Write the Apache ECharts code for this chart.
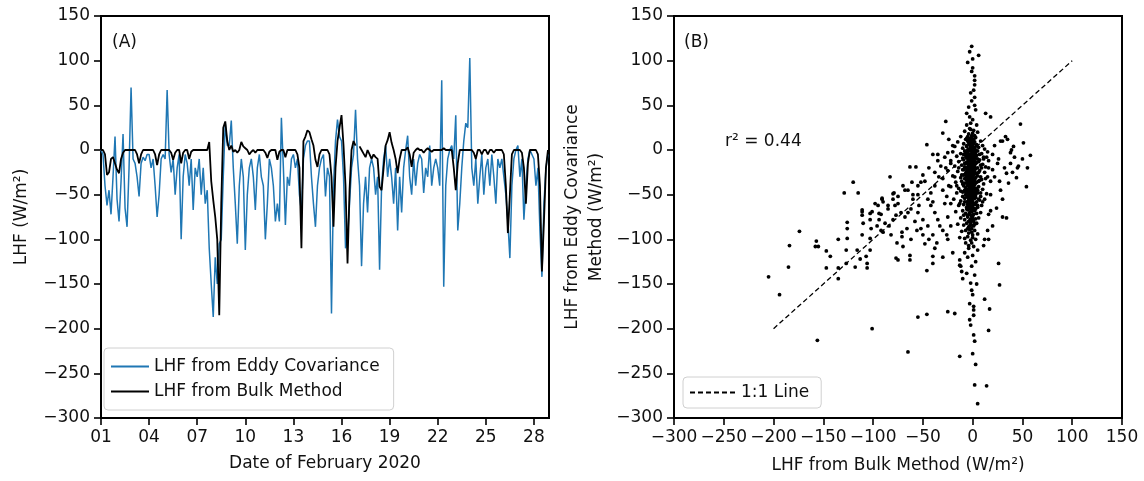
<!DOCTYPE html>
<html><head><meta charset="utf-8">
<script src="https://cdn.jsdelivr.net/npm/echarts@6/dist/echarts.min.js"></script>
<style>html,body{margin:0;padding:0;background:#fff}#c{width:1144px;height:481px}</style>
</head><body><div id="c"></div>
<script>
// ---- Panel A: time series (8 samples per day, starting Feb 1 00:00) ----
const dayTicks = [1,4,7,10,13,16,19,22,25,28];
const eddyLHF = [
  0,-5,-40,-62,-45,-72,-30,15,
  -55,-80,-35,18,-65,-86,-20,70,
  -10,-15,-30,-52,-15,-8,-12,-5,
  -5,-20,-10,-40,-75,-50,-10,-5,
  -10,67,-5,-25,-10,-50,-20,-5,
  -100,-30,-5,-15,-40,-10,-67,-20,
  -30,-10,-50,-20,-60,-45,-110,-150,
  -187,-120,-150,-105,-100,-30,30,5,
  5,33,-20,-60,-105,-40,-10,-30,
  -112,-50,-20,-10,-30,-67,-20,-5,
  -30,-40,-100,-60,-10,-20,-40,-80,
  -60,-80,36,-20,-84,-30,-40,-10,
  -5,-20,-10,-50,-70,-10,5,10,
  10,-30,-60,-86,-40,-20,-10,-5,
  -52,-20,-30,-183,-40,10,34,15,
  10,-30,-110,-100,-60,-20,-5,45,
  -10,-40,-130,-60,-30,-70,-20,-10,
  -20,-50,-30,-134,-40,-10,5,-30,
  -10,-30,-60,-20,-90,-30,-70,-20,
  0,16,-30,-50,-10,-40,-15,-5,
  -10,-48,-20,-30,5,-40,-20,-10,
  -20,-40,78,-153,-40,-10,0,5,
  -10,39,-90,-60,-20,10,30,25,
  103,-20,-40,-10,-60,-30,-5,-50,
  -20,-10,-40,-5,-30,-60,-10,-20,
  -10,-30,-50,-80,-121,-40,-10,0,
  5,-30,-10,-78,-40,-10,0,-5,
  -10,-40,-20,-90,-142,-60,-20,-5
];
const bulkLHF = [
  0,0,-5,-28,-25,-10,-8,-15,
  -22,-26,-10,-3,0,0,0,0,
  0,0,-5,-15,-5,0,0,0,
  0,0,0,-5,-17,-5,0,0,
  0,0,0,-3,-11,-3,0,0,
  -15,-3,0,0,-10,-2,0,0,
  0,0,0,0,0,0,9,-35,
  -56,-75,-100,-185,-60,25,32,10,
  0,5,-2,0,-3,0,9,4,
  2,0,-5,-2,0,-3,0,0,
  0,0,-3,-9,-2,0,0,0,
  -11,-2,0,0,-8,0,0,0,
  0,0,-5,-20,-110,10,15,22,
  20,12,5,-11,-19,-5,0,0,
  0,0,-5,-30,-86,-20,10,25,
  39,5,-40,-127,-45,0,10,5,
  null,4,0,-4,-8,0,-5,-10,
  -5,-8,-10,-41,-45,-20,5,11,
  20,8,0,-10,-26,-10,0,0,
  0,3,-5,-19,-3,0,2,0,
  0,-3,0,2,0,-2,0,0,
  0,0,0,2,0,0,0,0,
  -20,-45,-15,0,0,0,0,0,
  0,0,-3,-10,0,0,-5,0,
  0,-5,0,0,-3,0,0,0,
  0,-5,-40,-93,-50,-5,0,0,
  0,0,-3,-20,-60,-15,0,0,
  0,0,-5,-40,-136,-80,-20,0
];
const samplesPerDay = 8;

// ---- Panel B: scatter (x = bulk, y = eddy covariance) ----
const spikeUp = [[-1,116],[-3,110],[6,106],[-5,98],[0,102],[-1,88],[0,92],[2,83],[2,78],[2,73],[1,67],[-2,64],[2,59],[-1,55],[2,50],[-4,48],[3,45],[-6,41],[-3,37],[0,34],[-2,30],[4,28],[-6,28],[-3,24],[1,22],[13,41],[18,37],[-27,32],[-30,19]];
const core = [
 [-8,21],[-4,18],[-2,23],[0,19],[2,16],[5,20],[-1,14],
 [-12,15],[-6,13],[-3,11],[-1,16],[1,12],[3,14],[8,10],
 [-15,9],[-9,7],[-5,10],[-3,6],[-1,8],[0,4],[2,9],[4,6],[10,5],
 [-18,4],[-10,2],[-6,5],[-4,1],[-2,3],[-1,-1],[1,2],[3,0],[6,3],[12,1],
 [-20,-2],[-12,-4],[-8,-1],[-5,-3],[-3,-6],[-2,0],[0,-2],[1,-5],[3,-3],[5,-1],[9,-4],[15,-2],
 [-16,-7],[-10,-9],[-7,-6],[-5,-8],[-4,-11],[-2,-7],[-1,-10],[0,-8],[2,-9],[4,-6],[7,-11],[11,-8],
 [-22,-12],[-14,-13],[-9,-11],[-6,-14],[-4,-16],[-3,-12],[-2,-15],[-1,-13],[1,-12],[3,-15],[6,-13],[10,-16],[16,-12],
 [-18,-18],[-11,-17],[-8,-19],[-6,-21],[-4,-18],[-3,-22],[-2,-19],[0,-17],[1,-21],[2,-18],[5,-20],[8,-17],[13,-19],
 [-25,-23],[-15,-24],[-10,-22],[-7,-26],[-5,-24],[-4,-27],[-3,-25],[-1,-23],[0,-26],[2,-24],[4,-27],[7,-23],[12,-25],[20,-22],
 [-20,-29],[-12,-31],[-9,-28],[-6,-30],[-5,-33],[-3,-29],[-2,-32],[-1,-30],[1,-28],[3,-31],[5,-29],[9,-33],[15,-30],
 [-17,-36],[-11,-35],[-8,-37],[-6,-34],[-4,-38],[-3,-36],[-2,-34],[0,-37],[1,-35],[2,-39],[4,-36],[7,-34],[11,-38],[18,-35],
 [-22,-41],[-14,-43],[-9,-40],[-7,-42],[-5,-45],[-3,-41],[-2,-44],[-1,-42],[0,-40],[2,-43],[3,-46],[6,-41],[10,-44],
 [-16,-48],[-10,-47],[-7,-50],[-5,-48],[-4,-52],[-3,-49],[-1,-51],[0,-47],[1,-53],[3,-50],[5,-48],[8,-52],[14,-49],
 [-19,-55],[-12,-57],[-8,-54],[-6,-58],[-4,-56],[-2,-59],[-1,-55],[0,-57],[2,-54],[4,-58],[7,-56],[12,-55],
 [-14,-62],[-9,-61],[-6,-64],[-4,-60],[-3,-63],[-2,-66],[0,-62],[1,-65],[3,-61],[5,-64],[9,-62],
 [-17,-69],[-10,-68],[-7,-71],[-5,-67],[-3,-72],[-1,-69],[0,-73],[2,-68],[4,-71],[8,-70],
 [-12,-76],[-8,-78],[-5,-75],[-3,-79],[-2,-77],[0,-75],[1,-80],[3,-77],[6,-76],
 [-15,-83],[-9,-84],[-6,-82],[-4,-86],[-2,-83],[-1,-88],[1,-85],[4,-82],
 [-11,-91],[-7,-90],[-4,-93],[-3,-89],[-1,-92],[0,-95],[2,-90],[5,-94],
 [-13,-98],[-8,-99],[-5,-97],[-2,-101],[0,-98],[3,-100],
 [-7,-104],[-4,-107],[-1,-104],[1,-108]
];
const coreDense = [
 [-7,12],[-5,15],[-3,13],[-2,10],[0,11],[1,7],[-4,8],[-6,4],[-2,5],[0,1],[2,3],[-1,3],
 [-7,-3],[-5,0],[-3,-1],[-1,-4],[1,-1],[2,-6],[-4,-5],[-6,-9],[-3,-8],[0,-11],[2,-12],[-2,-12],
 [-7,-15],[-5,-13],[-3,-16],[-1,-17],[1,-15],[4,-14],[-5,-19],[-2,-21],[0,-20],[3,-21],[-6,-24],[-4,-22],
 [-2,-26],[1,-24],[-1,-27],[3,-26],[-7,-28],[-5,-29],[-3,-31],[0,-29],[2,-33],[-4,-33],[-1,-34],[1,-32],
 [-6,-37],[-4,-35],[-2,-37],[0,-35],[3,-37],[-5,-40],[-3,-43],[-1,-39],[1,-41],[4,-43],[-6,-44],[-2,-46],
 [0,-44],[2,-47],[-4,-47],[-7,-47],[-3,-51],[-1,-48],[1,-50],[-5,-53],[-2,-54],[0,-52],[3,-53],[-6,-51],
 [-4,-58],[-2,-57],[0,-59],[2,-60],[-5,-61],[-3,-60],[-1,-63],[1,-60],[-6,-66],[-4,-65],[-2,-69],[0,-67],
 [3,-66],[-3,-70],[-1,-74],[1,-72],[-5,-73],[-4,-80],[-2,-80],[0,-78],[2,-83],[-3,-85],[-1,-84],[-5,-88],
 [-8,-32],[-8,-45],[-8,-58],[-8,-15],[-9,-5],[-9,-22],[5,-10],[6,-25],[6,-35],[5,-45],[6,-55],[5,-62],
 [7,-5],[8,-30],[4,5],[3,-7],[-10,-38],[-10,-52],[-11,-28],[8,-48],[9,-20],[10,-58],[-12,-46],[-13,-60],
 [11,-10],[-14,-20],[13,-32],[-16,-40],[14,-8],[-9,-73]
];
const halo = [
 [-46,6],[-40,-5],[-35,-12],[-38,-25],[-32,-18],[-28,-8],[-25,-3],[-24,-40],[-30,-45],[-42,-48],[-48,-35],[-55,-50],
 [-44,-20],[-34,-30],[-57,-19],[-63,-19],[-61,-36],[-52,-36],[-80,-49],[-91,-55],[-83,-30],[-20,5],[-24,12],[-18,-30],
 [-30,-32],[-27,-20],[-22,-15],[-38,-40],[-50,-28],[-45,-55],[-65,-45],[-70,-40],[-75,-52],[-60,-55],[-54,-62],[-40,-58],
 [-98,-60],[-90,-58],[-85,-66],[-78,-62],[-72,-70],[-68,-75],[-62,-66],[-58,-80],[-55,-70],[-50,-78],[-45,-85],[-42,-62],
 [-38,-70],[-35,-78],[-30,-90],[-28,-60],[-25,-75],[-22,-85],[-50,-95],[-44,-100],[-36,-104],[-56,-90],[-66,-88],[-88,-82],
 [-96,-85],[-82,-95],[-62,-100],[-48,-105],[-38,-110],[-30,-120],[-20,-115],[-25,-100],[-35,-5],[-33,-85],[-26,-95],[-40,-95],[-52,-88],[-22,-60],[-26,-52]
];
const leftArm = [
 [-205,-142],[-194,-162],[-185,-131],[-184,-107],[-174,-91],[-157,-102],[-158,-108],[-155,-108],[-156,-213],[-147,-113],
 [-143,-119],[-147,-132],[-135,-100],[-135,-132],[-135,-144],[-126,-81],[-126,-88],[-126,-99],[-127,-112],[-127,-127],
 [-118,-131],[-116,-112],[-111,-67],[-111,-73],[-110,-82],[-111,-95],[-113,-122],[-107,-119],[-106,-127],[-106,-132],
 [-103,-71],[-103,-78],[-102,-88],[-103,-99],[-103,-112],[-101,-200],[-94,-71],[-94,-78],[-92,-90],[-90,-92],[-80,-78],
 [-77,-73],[-84,-85],[-76,-104],[-70,-108],[-77,-121],[-75,-123],[-71,-92],[-71,-97],[-65,-226],[-63,-118],[-63,-123],
 [-55,-187],[-46,-184],[-46,-135],[-40,-119],[-40,-127],[-129,-48],[-120,-36],[-115,-48],[-91,-54],[-79,-48],
 [-111,-69],[-101,-69],[-92,-72],[-80,-55],[-85,-62],[-95,-62],[-75,-60],[-68,-45],[-60,-50],[-55,-40],[-65,-70]
];
const lowerTail = [
 [-13,-231],[-25,-181],[-18,-183],[-13,-123],[-13,-129],[-12,-130],[-11,-136],[-10,-144],[-2,-149],[-1,-157],[0,-162],
 [-3,-172],[-2,-196],[1,-175],[1,-179],[1,-185],[1,-207],[2,-214],[2,-263],[5,-284],[14,-264],[12,-167],[16,-202],
 [17,-178],[16,-100],[26,-127],[27,-151],[-8,-115],[-5,-120],[-4,-110],[0,-118],[3,-125],[5,-112],[-6,-138],[2,-140],
 [-1,-130],[4,-150],[-3,-190],[0,-228],[3,-240],[11,-107],[12,-100]
];
const rightSpread = [
 [48,29],[51,8],[58,-6],[41,4],[39,0],[42,-8],[54,-41],[44,-31],[34,-26],[36,-37],[20,-5],[25,-15],[22,-30],[28,-45],
 [30,-55],[24,-65],[18,-50],[16,-72],[20,-85],[15,-90],[30,-75],[34,-76],[18,-68],[26,-10],[32,-20],[38,-15],[45,-20],
 [27,-35],[16,-20],[22,5],[28,10],[35,12],[30,10],[33,15],[38,-3],[46,-18],[50,-10],[40,-25],[55,-20]
];
const oneToOne = [[-200,-200],[100,100]];
const r2Text = 'r² = 0.44';

const FONT = 'DejaVu Sans';
const minus = v => String(v).replace('-', '\u2212');
const toSeries = arr => arr.map((v,i) => [1 + i / samplesPerDay, v]);

const axisCommon = {
  axisLine: {show: true, onZero: false, lineStyle: {color: '#000', width: 2}},
  axisTick: {show: true, inside: false, length: 7, lineStyle: {color: '#000', width: 1.6}},
  splitLine: {show: false},
  axisLabel: {color: '#111', fontFamily: FONT, fontSize: 17, margin: 11}
};
const legendCommon = {
  orient: 'vertical',
  borderColor: '#d0d0d0', borderWidth: 1, borderRadius: 4,
  textStyle: {fontFamily: FONT, fontSize: 17, color: '#111'},
  itemStyle: {opacity: 0},
  selectedMode: false
};

const chart = echarts.init(document.getElementById('c'), null, {renderer: 'canvas'});
chart.setOption({
  animation: false,
  backgroundColor: '#fff',
  grid: [
    {left: 101, top: 16, width: 448, height: 402, show: true, borderColor: '#000', borderWidth: 2},
    {left: 674, top: 16, width: 448, height: 402, show: true, borderColor: '#000', borderWidth: 2}
  ],
  xAxis: [
    Object.assign({}, axisCommon, {
      gridIndex: 0, type: 'value', min: 1, max: 28.94,
      axisTick: Object.assign({}, axisCommon.axisTick, {customValues: dayTicks}),
      axisLabel: Object.assign({}, axisCommon.axisLabel, {customValues: dayTicks, formatter: v => String(v).padStart(2, '0')})
    }),
    Object.assign({}, axisCommon, {
      gridIndex: 1, type: 'value', min: -300, max: 150, interval: 50,
      axisLabel: Object.assign({}, axisCommon.axisLabel, {formatter: minus})
    })
  ],
  yAxis: [
    Object.assign({}, axisCommon, {
      gridIndex: 0, type: 'value', min: -300, max: 150, interval: 50,
      axisLabel: Object.assign({}, axisCommon.axisLabel, {formatter: minus})
    }),
    Object.assign({}, axisCommon, {
      gridIndex: 1, type: 'value', min: -300, max: 150, interval: 50,
      axisLabel: Object.assign({}, axisCommon.axisLabel, {formatter: minus})
    })
  ],
  legend: [
    Object.assign({}, legendCommon, {
      data: ['LHF from Eddy Covariance', 'LHF from Bulk Method'],
      left: 104, top: 348,
      padding: [10, 14, 10, 6], itemGap: 8, itemWidth: 38, itemHeight: 14
    }),
    Object.assign({}, legendCommon, {
      data: ['1:1 Line'],
      left: 683, top: 377,
      padding: [7, 12, 7, 6], itemWidth: 46, itemHeight: 14
    })
  ],
  series: [
    {name: 'LHF from Eddy Covariance', type: 'line', xAxisIndex: 0, yAxisIndex: 0,
     data: toSeries(eddyLHF), symbol: 'none', lineStyle: {color: '#1f77b4', width: 1.5}, itemStyle: {color: '#1f77b4'}},
    {name: 'LHF from Bulk Method', type: 'line', xAxisIndex: 0, yAxisIndex: 0,
     data: toSeries(bulkLHF), symbol: 'none', connectNulls: false, lineStyle: {color: '#000', width: 1.8}, itemStyle: {color: '#000'}},
    {name: 'scatter', type: 'scatter', xAxisIndex: 1, yAxisIndex: 1,
     data: [].concat(spikeUp, core, coreDense, halo, leftArm, lowerTail, rightSpread),
     symbolSize: 3.8, itemStyle: {color: '#000', opacity: 1}},
    {name: '1:1 Line', type: 'line', xAxisIndex: 1, yAxisIndex: 1, data: oneToOne, symbol: 'none',
     lineStyle: {color: '#000', width: 1.3, type: [5, 3]}, itemStyle: {color: '#000'}}
  ],
  graphic: [
    {type: 'text', left: 112, top: 34, style: {text: '(A)', font: '17px ' + FONT, fill: '#111'}},
    {type: 'text', left: 684, top: 34, style: {text: '(B)', font: '17px ' + FONT, fill: '#111'}},
    {type: 'text', x: 725, y: 142, style: {text: r2Text, font: '17px ' + FONT, fill: '#111', textVerticalAlign: 'middle'}},
    {type: 'text', x: 22, y: 217, rotation: Math.PI / 2,
     style: {text: 'LHF (W/m²)', font: '17px ' + FONT, fill: '#111', textAlign: 'center', textVerticalAlign: 'middle'}},
    {type: 'text', x: 573, y: 217, rotation: Math.PI / 2,
     style: {text: 'LHF from Eddy Covariance', font: '17px ' + FONT, fill: '#111', textAlign: 'center', textVerticalAlign: 'middle'}},
    {type: 'text', x: 597, y: 217, rotation: Math.PI / 2,
     style: {text: 'Method (W/m²)', font: '17px ' + FONT, fill: '#111', textAlign: 'center', textVerticalAlign: 'middle'}},
    {type: 'text', x: 325, y: 464,
     style: {text: 'Date of February 2020', font: '17px ' + FONT, fill: '#111', textAlign: 'center', textVerticalAlign: 'middle'}},
    {type: 'text', x: 898, y: 466,
     style: {text: 'LHF from Bulk Method (W/m²)', font: '17px ' + FONT, fill: '#111', textAlign: 'center', textVerticalAlign: 'middle'}}
  ]
});
</script>
</body></html>
